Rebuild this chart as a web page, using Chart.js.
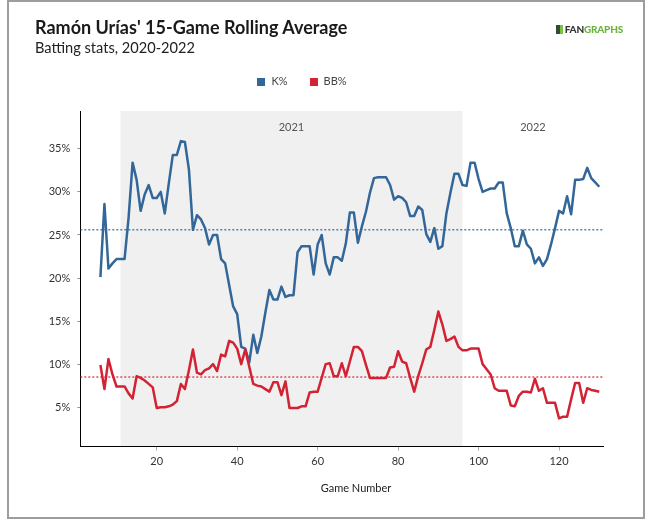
<!DOCTYPE html>
<html>
<head>
<meta charset="utf-8">
<script src="https://cdn.jsdelivr.net/npm/chart.js@4.4.0/dist/chart.umd.min.js"></script>
<style>
  html, body { margin: 0; padding: 0; background: #fff; }
  body { width: 653px; height: 532px; position: relative; overflow: hidden; font-family: Lato, "Open Sans", sans-serif; }
  #frame { position: absolute; left: 7px; top: 0px; width: 638px; height: 519px; border: 2px solid #9d9d9d; box-sizing: border-box; }
  #chart { position: absolute; left: 0; top: 0; }
  .txt { position: absolute; white-space: nowrap; }
  #title { left: 35px; top: 16px; font-size: 18px; font-weight: 700; color: #1a1a1a; }
  #subtitle { left: 35px; top: 39px; font-size: 14.6px; color: #222; }
  #legend { left: 0; width: 604px; top: 74px; text-align: center; font-size: 11px; color: #444; }
  #legend span.sw { display: inline-block; width: 8px; height: 8px; vertical-align: -0.5px; margin-right: 6px; }
  #legend span.item { margin: 0 11px; }
  .year { top: 120px; font-size: 11px; color: #555; transform: translateX(-50%); }
  #xtitle { top: 481px; left: 356px; transform: translateX(-50%); font-size: 11px; color: #222; }
  #logo { right: 30px; top: 23px; font-size: 10px; font-weight: 900; letter-spacing: -0.2px; }
  #logo .ic { display: inline-block; width: 7px; height: 9px; background: linear-gradient(90deg, #2f4f2f 0 60%, #7cc142 60% 100%); vertical-align: -1px; margin-right: 2px; }
</style>
</head>
<body>
<div id="frame"></div>
<canvas id="chart" width="653" height="532"></canvas>
<div class="txt" id="title">Ramón Urías' 15-Game Rolling Average</div>
<div class="txt" id="subtitle">Batting stats, 2020-2022</div>
<div class="txt" id="legend"><span class="item"><span class="sw" style="background:#336699"></span>K%</span><span class="item"><span class="sw" style="background:#d22233"></span>BB%</span></div>
<div class="txt" id="logo"><span class="ic"></span><span style="color:#333">FAN</span><span style="color:#6ab43e">GRAPHS</span></div>
<div class="txt year" id="y2021">2021</div>
<div class="txt year" id="y2022">2022</div>
<div class="txt" id="xtitle">Game Number</div>
<script>
const games = [6,7,8,9,10,11,12,13,14,15,16,17,18,19,20,21,22,23,24,25,26,27,28,29,30,31,32,33,34,35,36,37,38,39,40,41,42,43,44,45,46,47,48,49,50,51,52,53,54,55,56,57,58,59,60,61,62,63,64,65,66,67,68,69,70,71,72,73,74,75,76,77,78,79,80,81,82,83,84,85,86,87,88,89,90,91,92,93,94,95,96,97,98,99,100,101,102,103,104,105,106,107,108,109,110,111,112,113,114,115,116,117,118,119,120,121,122,123,124,125,126,127,128,129,130];
const kPct = [20.1,28.6,21.1,21.7,22.2,22.2,22.2,27.0,33.4,31.4,27.8,29.7,30.8,29.3,29.3,30.0,27.5,31.0,34.3,34.3,35.9,35.8,32.6,25.6,27.3,26.8,25.8,23.9,25.0,25.0,22.2,21.7,19.2,16.7,15.8,12.0,11.8,10.2,13.4,11.3,13.2,16.0,18.6,17.5,17.5,19.0,17.8,18.0,18.0,23.0,23.7,23.7,23.7,20.4,23.9,25.0,21.7,20.4,22.4,22.4,22.0,24.0,27.6,27.6,24.1,26.0,27.7,29.9,31.6,31.7,31.7,31.7,30.8,29.1,29.5,29.3,28.8,27.2,27.2,28.3,27.9,25.1,24.2,25.8,23.4,23.7,27.5,29.9,32.1,32.1,30.8,30.7,33.4,33.4,31.5,30.0,30.2,30.4,30.4,31.1,31.1,27.5,25.8,23.7,23.7,25.5,23.9,23.4,21.7,22.4,21.4,22.2,23.9,25.8,27.8,27.5,29.5,27.4,31.4,31.4,31.5,32.8,31.6,31.1,30.6];
const bbPct = [9.9,7.1,10.6,8.8,7.4,7.4,7.4,6.6,6.0,8.6,8.4,8.1,7.7,7.3,4.9,5.0,5.0,5.1,5.3,5.7,7.7,7.1,9.3,11.7,9.0,8.8,9.3,9.5,10.0,9.2,11.1,10.9,12.7,12.5,11.8,10.0,11.7,9.7,7.7,7.5,7.4,7.1,6.8,7.9,7.9,6.4,8.0,4.9,4.9,4.9,5.1,5.1,6.7,6.8,6.8,8.4,10.0,10.1,8.6,8.6,10.1,8.6,10.3,12.0,12.0,11.5,9.9,8.4,8.4,8.4,8.4,8.4,9.6,9.7,11.5,10.3,10.1,8.4,6.8,8.6,10.1,11.7,12.0,14.0,16.1,14.6,12.7,12.9,13.2,12.0,11.6,11.6,11.8,11.8,11.8,10.0,9.4,8.8,7.2,6.9,6.9,6.9,5.2,5.1,6.3,6.8,6.8,6.7,8.3,6.9,7.2,5.5,5.5,5.5,3.7,3.9,3.9,5.9,7.8,7.8,5.5,7.2,7.0,6.9,6.8];
const kAvg = 25.6;
const bbAvg = 8.5;
const xTicks = [20,40,60,80,100,120];
const yTicks = [5,10,15,20,25,30,35];
const xRange = [1, 131];
const yRange = [0.43, 39.4];
const season2021 = [11, 96];
const seasonLabels = ['2021', '2022'];

const BLUE = '#336699';
const RED = '#d22233';

const toPts = vals => vals.map((v, i) => ({ x: games[i], y: v }));
const avgPts = v => [{ x: xRange[0], y: v }, { x: xRange[1], y: v }];

const bandPlugin = {
  id: 'band',
  beforeDraw(chart) {
    const { ctx, chartArea: a, scales: { x } } = chart;
    const x0 = x.getPixelForValue(season2021[0]);
    const x1 = x.getPixelForValue(season2021[1]);
    ctx.save();
    ctx.fillStyle = '#f0f0f0';
    ctx.fillRect(x0, a.top, x1 - x0, a.bottom - a.top);
    ctx.restore();
  },
  afterRender(chart) {
    const { chartArea: a, scales: { x } } = chart;
    const x0 = x.getPixelForValue(season2021[0]);
    const x1 = x.getPixelForValue(season2021[1]);
    const x2 = a.right;
    document.getElementById('y2021').style.left = ((x0 + x1) / 2) + 'px';
    document.getElementById('y2022').style.left = ((x1 + x2) / 2) + 'px';
  }
};

const tickFont = { family: 'Lato', size: 11 };

new Chart(document.getElementById('chart'), {
  type: 'line',
  data: {
    datasets: [
      { label: 'K%', data: toPts(kPct), borderColor: BLUE, borderWidth: 2.5, pointRadius: 0, tension: 0, borderJoinStyle: 'round', order: 2 },
      { label: 'BB%', data: toPts(bbPct), borderColor: RED, borderWidth: 2.5, pointRadius: 0, tension: 0, borderJoinStyle: 'round', order: 1 },
      { label: 'K% avg', data: avgPts(kAvg), borderColor: BLUE, borderWidth: 1.2, borderDash: [2, 2], pointRadius: 0, order: 3 },
      { label: 'BB% avg', data: avgPts(bbAvg), borderColor: RED, borderWidth: 1.2, borderDash: [2, 2], pointRadius: 0, order: 3 }
    ]
  },
  options: {
    responsive: false,
    animation: false,
    layout: { padding: { left: 0, top: 111, right: 49.7, bottom: 0 } },
    plugins: { legend: { display: false }, tooltip: { enabled: false }, title: { display: false } },
    scales: {
      x: {
        type: 'linear', min: xRange[0], max: xRange[1],
        afterBuildTicks: s => { s.ticks = xTicks.map(v => ({ value: v })); },
        afterFit: s => { s.height = 85.5; },
        grid: { display: true, drawOnChartArea: false, drawTicks: true, tickLength: 4, color: '#aaaaaa' },
        border: { display: true, color: '#000', width: 1 },
        ticks: { font: tickFont, color: '#333', padding: 4, maxRotation: 0, autoSkip: false }
      },
      y: {
        type: 'linear', min: yRange[0], max: yRange[1],
        afterBuildTicks: s => { s.ticks = yTicks.map(v => ({ value: v })); },
        afterFit: s => { s.width = 80.3; },
        grid: { display: true, drawOnChartArea: false, drawTicks: true, tickLength: 3, color: '#8899aa' },
        border: { display: true, color: '#000', width: 1 },
        ticks: { font: tickFont, color: '#333', padding: 7, callback: v => v + '%' }
      }
    }
  },
  plugins: [bandPlugin]
});
</script>
</body>
</html>
